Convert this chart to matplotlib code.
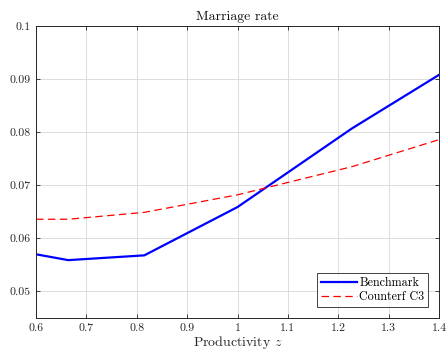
import numpy as np
import matplotlib
matplotlib.use('Agg')
import matplotlib.pyplot as plt

# values
z = [0.6, 0.664, 0.815, 1.0, 1.227, 1.4]
benchmark = [0.0570, 0.0559, 0.0568, 0.0659, 0.0807, 0.0908]
counterf = [0.0636, 0.0636, 0.0649, 0.0682, 0.0735, 0.0786]

xticks = [0.6, 0.7, 0.8, 0.9, 1.0, 1.1, 1.2, 1.3, 1.4]
xticklabels = ['0.6', '0.7', '0.8', '0.9', '1', '1.1', '1.2', '1.3', '1.4']
yticks = [0.05, 0.06, 0.07, 0.08, 0.09, 0.1]
yticklabels = ['0.05', '0.06', '0.07', '0.08', '0.09', '0.1']

plt.rcParams['font.family'] = ['cmr10', 'DejaVu Serif']
plt.rcParams['mathtext.fontset'] = 'cm'
plt.rcParams['axes.unicode_minus'] = False

axcol = '#262626'
fig = plt.figure(figsize=(4.48, 3.52), dpi=100)
ax = fig.add_axes([0.0804, 0.0966, 0.8996, 0.8295])

ax.plot(z, benchmark, color='#0000ff', lw=1.6, label='Benchmark')
ax.plot(z, counterf, color='#ff0000', lw=0.9, ls=(0, (6, 3.5)), label='Counterf C3')

ax.set_xlim(0.6, 1.4)
ax.set_ylim(0.045, 0.1)
ax.set_xticks(xticks)
ax.set_xticklabels(xticklabels)
ax.set_yticks(yticks)
ax.set_yticklabels(yticklabels)
ax.grid(True, color='#dcdcdc', lw=0.7)
ax.set_axisbelow(True)
ax.tick_params(direction='in', length=3, width=0.6, colors=axcol, labelsize=8.5,
               top=True, right=True, pad=4)
for s in ax.spines.values():
    s.set_color(axcol)
    s.set_linewidth(0.7)

ax.set_title('Marriage rate', fontsize=10, color='#111111', pad=4)
ax.set_xlabel('Productivity $z$', fontsize=10, color=axcol, labelpad=1)

leg = ax.legend(loc='lower right', fontsize=8.7, frameon=True, fancybox=False,
                borderpad=0.3, handlelength=3.0, handletextpad=0.2,
                labelspacing=0.2, borderaxespad=0.9)
leg.get_frame().set_edgecolor('#111111')
leg.get_frame().set_linewidth(0.7)

fig.savefig('out.png', dpi=100)
